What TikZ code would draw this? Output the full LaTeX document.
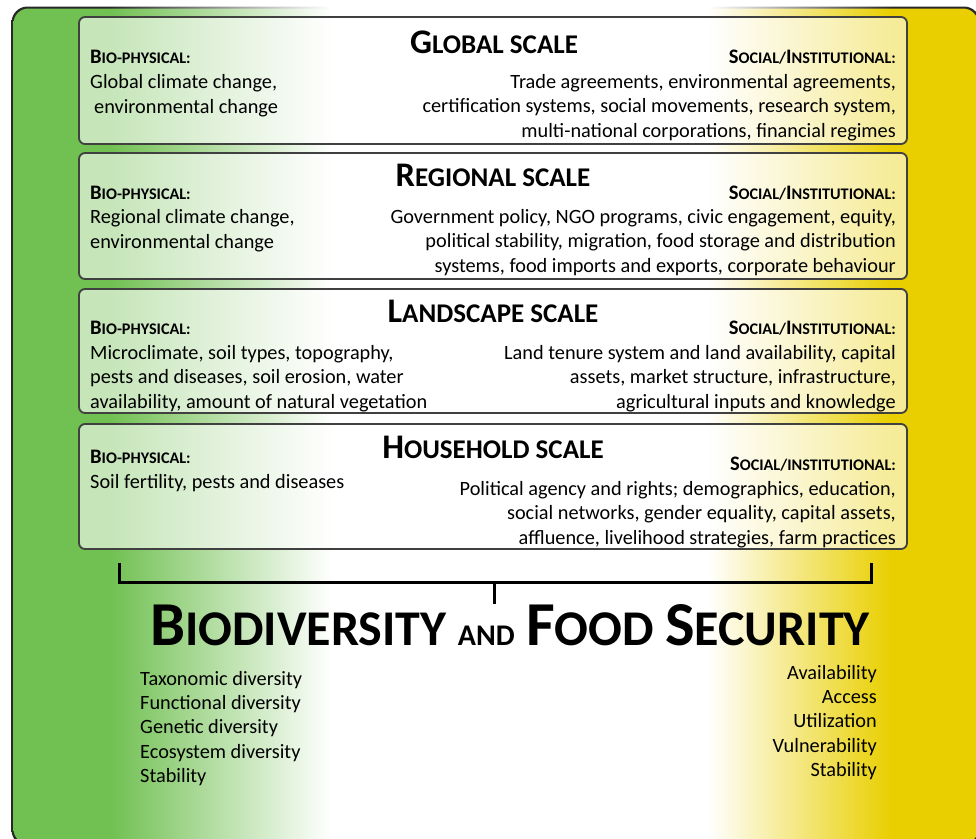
\documentclass[tikz,border=0pt]{standalone}
\usepackage{fontspec}
\setmainfont{Carlito}
\usetikzlibrary{positioning}

\definecolor{leafgreen}{RGB}{113,192,82}
\definecolor{cornyellow}{RGB}{233,207,0}
\definecolor{frameedge}{RGB}{40,40,40}
\definecolor{boxedge}{RGB}{64,64,64}

% background: green -> white -> yellow
\pgfdeclarehorizontalshading{fieldshade}{100bp}{color(0bp)=(leafgreen); color(30bp)=(leafgreen); color(41.5bp)=(white); color(61bp)=(white); color(70.5bp)=(cornyellow); color(100bp)=(cornyellow)}
\pgfdeclarehorizontalshading{edgeshade}{100bp}{color(0bp)=(frameedge); color(30bp)=(frameedge); color(41.5bp)=(white); color(61bp)=(white); color(70.5bp)=(frameedge); color(100bp)=(frameedge)}

% hand-made small caps
\newcommand{\scaletitle}[2]{{\bfseries\fontsize{34.5}{36}\selectfont #1\fontsize{27}{36}\selectfont #2}}
\newcommand{\sidehead}[2]{{\bfseries\fontsize{20.6}{24}\selectfont #1\fontsize{16.2}{24}\selectfont #2}}
\newcommand{\titlecap}[2]{{\fontsize{62.5}{70}\selectfont #1\fontsize{50}{70}\selectfont #2}}

\begin{document}
\begin{tikzpicture}[x=1pt,y=-1pt,
    tierbox/.style={draw=boxedge, line width=1.8pt, rounded corners=6pt, fill=white, fill opacity=0.6, minimum width=828pt, inner sep=0pt},
    tiertitle/.style={anchor=base, inner sep=0pt},
    bodytext/.style={font=\fontsize{20.3}{24.4}\selectfont, inner sep=0pt},
    leftcol/.style={bodytext, align=left, anchor=base west},
    rightcol/.style={bodytext, align=right, anchor=base east},
    bracket/.style={line width=3pt}]

    \useasboundingbox (0,0) rectangle (976,838);

    % outer frame
    \begin{scope}
        \clip (0,0) rectangle (976,838);
        \shade[shading=edgeshade, rounded corners=16pt] (11.5,6.5) rectangle (980,846);
        \shade[shading=fieldshade, rounded corners=15pt] (13.5,8.5) rectangle (978,844);
    \end{scope}

    % the four scales
    \node[tierbox, minimum height=127pt] (global) at (493,80.5) {};
    \node[tierbox, minimum height=126pt] (regional) at (493,216) {};
    \node[tierbox, minimum height=124pt] (landscape) at (493,351) {};
    \node[tierbox, minimum height=125pt] (household) at (493,486.5) {};

    % global scale (base anchor = last line)
    \node[tiertitle] (globalname) at (494,53) {\scaletitle{G}{LOBAL SCALE}};
    \node[leftcol] (globalbio) at (90,63) {\sidehead{B}{IO-PHYSICAL:}};
    \node[leftcol] (globalbiotext) at (90,113) {Global climate change,\\\hspace*{4pt}environmental change};
    \node[rightcol] (globalsoc) at (896,63) {\sidehead{S}{OCIAL/}\sidehead{I}{NSTITUTIONAL:}};
    \node[rightcol] (globalsoctext) at (896,137) {Trade agreements, environmental agreements,\\certification systems, social movements, research system,\\multi-national corporations, financial regimes};

    % regional scale
    \node[tiertitle] (regionalname) at (493,186) {\scaletitle{R}{EGIONAL SCALE}};
    \node[leftcol] (regionalbio) at (90,199) {\sidehead{B}{IO-PHYSICAL:}};
    \node[leftcol] (regionalbiotext) at (90,248) {Regional climate change,\\environmental change};
    \node[rightcol] (regionalsoc) at (896,199) {\sidehead{S}{OCIAL/}\sidehead{I}{NSTITUTIONAL:}};
    \node[rightcol] (regionalsoctext) at (896,272) {Government policy, NGO programs, civic engagement, equity,\\political stability, migration, food storage and distribution\\systems, food imports and exports, corporate behaviour};

    % landscape scale
    \node[tiertitle] (landscapename) at (493,322) {\scaletitle{L}{ANDSCAPE SCALE}};
    \node[leftcol] (landscapebio) at (90,334) {\sidehead{B}{IO-PHYSICAL:}};
    \node[leftcol] (landscapebiotext) at (90,408) {Microclimate, soil types, topography,\\pests and diseases, soil erosion, water\\availability, amount of natural vegetation};
    \node[rightcol] (landscapesoc) at (896,334) {\sidehead{S}{OCIAL/}\sidehead{I}{NSTITUTIONAL:}};
    \node[rightcol] (landscapesoctext) at (896,408) {Land tenure system and land availability, capital\\assets, market structure, infrastructure,\\agricultural inputs and knowledge};

    % household scale
    \node[tiertitle] (householdname) at (493,458) {\scaletitle{H}{OUSEHOLD SCALE}};
    \node[leftcol] (householdbio) at (90,463) {\sidehead{B}{IO-PHYSICAL:}};
    \node[leftcol] (householdbiotext) at (90,488) {Soil fertility, pests and diseases};
    \node[rightcol] (householdsoc) at (896,470) {\sidehead{S}{OCIAL/INSTITUTIONAL:}};
    \node[rightcol] (householdsoctext) at (896,544) {Political agency and rights; demographics, education,\\social networks, gender equality, capital assets,\\affluence, livelihood strategies, farm practices};

    % bracket
    \coordinate (braceL) at (119,563);
    \coordinate (braceR) at (871,563);
    \coordinate (braceM) at (494,582);
    \node[tiertitle, font=\bfseries\fontsize{50}{60}\selectfont] (goal) at (510,645) {\titlecap{B}{IODIVERSITY} {\fontsize{30}{60}\selectfont AND} \titlecap{F}{OOD} \titlecap{S}{ECURITY}};
    \draw[bracket] (braceL) |- (braceM) -| (braceR);
    \draw[bracket] (braceM) -- (braceM |- goal.north);

    % outcomes
    \node[leftcol] (biodiv) at (140,782.6) {Taxonomic diversity\\Functional diversity\\Genetic diversity\\Ecosystem diversity\\Stability};
    \node[rightcol] (foodsec) at (877,776.6) {Availability\\Access\\Utilization\\Vulnerability\\Stability};
\end{tikzpicture}
\end{document}
